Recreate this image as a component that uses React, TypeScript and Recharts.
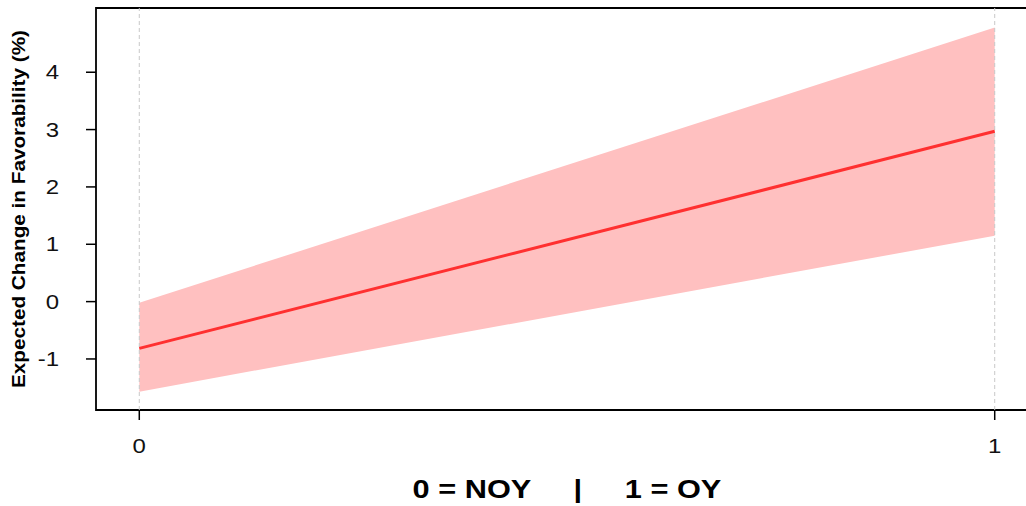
import React from 'react'
import { ComposedChart, Area, Line, XAxis, YAxis, ReferenceLine, ReferenceArea, Label } from 'recharts'

// x: 0 = NOY, 1 = OY
const groups = [0, 1]
const fitValues = [-0.815, 2.97]
const lowerValues = [-1.57, 1.15]
const upperValues = [-0.02, 4.78]
const yTicks = [-1, 0, 1, 2, 3, 4]
const xTicks = [0, 1]

const data = groups.map((g, i) => ({
    group: g,
    fit: fitValues[i],
    band: [lowerValues[i], upperValues[i]],
}))

const X_DOMAIN: [number, number] = [-0.0506, 1.0506]
const Y_DOMAIN: [number, number] = [-1.89, 5.12]
const FONT = '"Liberation Sans", Arial, Helvetica, sans-serif'
const STRETCH = 1.2 // the reference glyphs are a bit wider than normal

function YTick(props: any) {
    const { x, y, payload } = props
    return (
        <g transform={`translate(${x - 25},${y}) scale(${STRETCH},1)`}>
            <text x={0} y={0} dy={7} textAnchor="end" style={{ fontFamily: FONT, fontSize: 20, fill: '#111' }}>
                {payload.value}
            </text>
        </g>
    )
}

function XTick(props: any) {
    const { x, payload } = props
    return (
        <g transform={`translate(${x},453) scale(${STRETCH},1)`}>
            <text x={0} y={0} textAnchor="middle" style={{ fontFamily: FONT, fontSize: 20, fill: '#111' }}>
                {payload.value}
            </text>
        </g>
    )
}

function XTitle(props: any) {
    const vb = props.viewBox
    const cx = vb.x + vb.width / 2
    return (
        <g transform={`translate(${cx},498) scale(1.23,1)`}>
            <text
                x={0}
                y={0}
                textAnchor="middle"
                style={{ whiteSpace: 'pre', fontFamily: FONT, fontWeight: 700, fontSize: 25, fill: '#000' }}
            >
                {'0 = NOY     |     1 = OY'}
            </text>
        </g>
    )
}

function YTitle(props: any) {
    const vb = props.viewBox
    const cy = vb.y + vb.height / 2
    return (
        <text
            x={25}
            y={cy}
            transform={`rotate(-90, 25, ${cy})`}
            textAnchor="middle"
            textLength={358}
            lengthAdjust="spacingAndGlyphs"
            style={{ fontFamily: FONT, fontWeight: 700, fontSize: 18, fill: '#000' }}
        >
            Expected Change in Favorability (%)
        </text>
    )
}

export default function App() {
    return (
        <div style={{ position: 'absolute', left: 0, top: 0, width: 1026, height: 506, overflow: 'hidden', background: '#fff' }}>
            <ComposedChart width={1038} height={506} data={data} margin={{ top: 8, right: 0, bottom: 0, left: 0 }}>
                <XAxis
                    dataKey="group"
                    type="number"
                    domain={X_DOMAIN}
                    ticks={xTicks}
                    allowDataOverflow
                    height={96}
                    axisLine={false}
                    tickLine={{ stroke: '#000', strokeWidth: 1.5 }}
                    tickSize={10}
                    tick={<XTick />}
                >
                    <Label content={<XTitle />} />
                </XAxis>
                <YAxis
                    type="number"
                    domain={Y_DOMAIN}
                    ticks={yTicks}
                    allowDataOverflow
                    width={96}
                    axisLine={false}
                    tickLine={{ stroke: '#000', strokeWidth: 1.5 }}
                    tickSize={10}
                    tick={<YTick />}
                >
                    <Label content={<YTitle />} />
                </YAxis>
                <ReferenceLine x={0} stroke="#c8c8c8" strokeDasharray="4 3" />
                <ReferenceLine x={1} stroke="#c8c8c8" strokeDasharray="4 3" />
                <Area
                    dataKey="band"
                    type="linear"
                    stroke="none"
                    fill="#ffc0c0"
                    fillOpacity={1}
                    isAnimationActive={false}
                />
                <Line
                    dataKey="fit"
                    type="linear"
                    stroke="#ff3030"
                    strokeWidth={3}
                    dot={false}
                    isAnimationActive={false}
                />
                <ReferenceArea
                    x1={X_DOMAIN[0]}
                    x2={X_DOMAIN[1]}
                    y1={Y_DOMAIN[0]}
                    y2={Y_DOMAIN[1]}
                    fill="none"
                    stroke="#000"
                    strokeWidth={1.8}
                    ifOverflow="visible"
                />
            </ComposedChart>
        </div>
    )
}
